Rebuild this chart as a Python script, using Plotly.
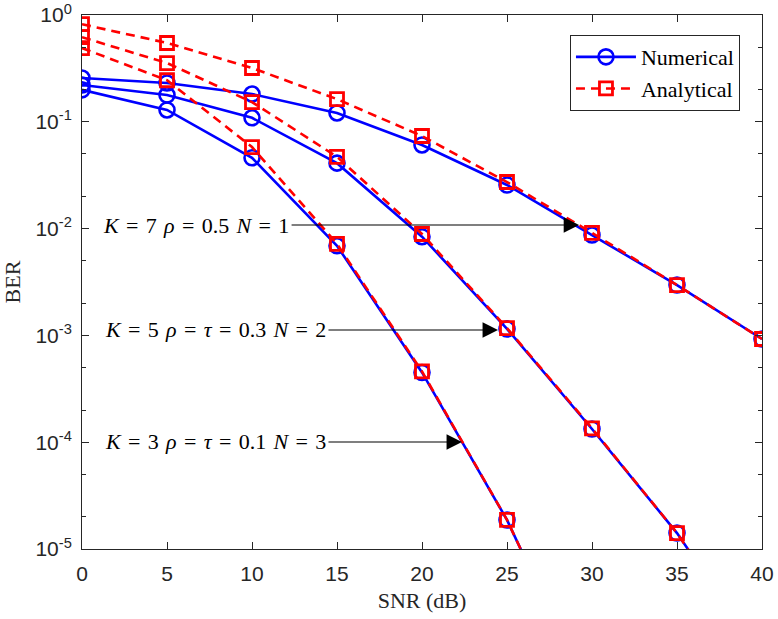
import plotly.graph_objects as go
import math

snr = [0, 5, 10, 15, 20, 25, 30, 35, 40]

# Numerical (simulation) BER
num_k7_n1 = [0.257, 0.231, 0.182, 0.121, 0.0607, 0.0256, 0.0087, 0.00296, 0.000925]
num_k5_n2 = [0.221, 0.178, 0.109, 0.041, 0.0084, 0.00115, 0.000133, 0.0000141, 0.00000095]
num_k3_n3 = [0.199, 0.129, 0.046, 0.0069, 0.00045, 0.0000187, 0.00000038]

# Analytical BER
ana_k7_n1 = [0.82, 0.547, 0.319, 0.163, 0.0736, 0.0273, 0.0091, 0.00296, 0.000925]
ana_k5_n2 = [0.62, 0.355, 0.153, 0.047, 0.0089, 0.00117, 0.000135, 0.0000141, 0.00000095]
ana_k3_n3 = [0.49, 0.245, 0.058, 0.0072, 0.00046, 0.0000187, 0.00000038]

ytick_vals = [1e-5, 1e-4, 1e-3, 1e-2, 1e-1, 1]
ytick_text = ["10<sup>-5</sup>", "10<sup>-4</sup>", "10<sup>-3</sup>",
              "10<sup>-2</sup>", "10<sup>-1</sup>", "10<sup>0</sup>"]
xtick_vals = [0, 5, 10, 15, 20, 25, 30, 35, 40]

S = "\u2004"
labels = [f"<i>K</i>{S}={S}7{S}<i>ρ</i>{S}={S}0.5{S}<i>N</i>{S}={S}1",
          f"<i>K</i>{S}={S}5{S}<i>ρ</i>{S}={S}<i>τ</i>{S}={S}0.3{S}<i>N</i>{S}={S}2",
          f"<i>K</i>{S}={S}3{S}<i>ρ</i>{S}={S}<i>τ</i>{S}={S}0.1{S}<i>N</i>{S}={S}3"]
# arrow tail x, tip x, BER level
arrow_tail = [12.24, 14.41, 14.41]
arrow_tip = [29.24, 24.47, 22.35]
arrow_ber = [0.0108, 0.001125, 0.0001005]

BLUE = "rgb(0,0,255)"
RED = "rgb(255,0,0)"
SERIF = "Liberation Serif"
SANS = "Liberation Sans"
AX = "#262626"

fig = go.Figure()

nums = [num_k7_n1, num_k5_n2, num_k3_n3]
anas = [ana_k7_n1, ana_k5_n2, ana_k3_n3]

for i, y in enumerate(nums):
    fig.add_trace(go.Scatter(
        x=snr[:len(y)], y=y, mode="lines+markers", name="Numerical",
        showlegend=(i == 0), legendgroup="num",
        line=dict(color=BLUE, width=2.6),
        marker=dict(symbol="circle-open", size=15, color=BLUE, line=dict(width=2.6)),
        cliponaxis=True))
for i, y in enumerate(anas):
    fig.add_trace(go.Scatter(
        x=snr[:len(y)], y=y, mode="lines+markers", name="Analytical",
        showlegend=(i == 0), legendgroup="ana",
        line=dict(color=RED, width=2.6, dash="9px,6px"),
        marker=dict(symbol="square-open", size=13, color=RED, line=dict(width=2.8)),
        cliponaxis=True))

for lab, xt, xp, yb in zip(labels, arrow_tail, arrow_tip, arrow_ber):
    ly = math.log10(yb)
    fig.add_annotation(x=xp, y=ly, ax=xt, ay=ly, xref="x", yref="y",
                       axref="x", ayref="y", text="", showarrow=True,
                       arrowhead=2, arrowsize=2.8, arrowwidth=1.1,
                       arrowcolor="black", standoff=0)
    fig.add_annotation(x=xt, y=ly, xref="x", yref="y", text=lab,
                       showarrow=False, xanchor="right", yanchor="middle",
                       xshift=1,
                       font=dict(family=SERIF, size=22, color="black"))

axis_common = dict(showline=True, linecolor=AX, linewidth=1, mirror="allticks",
                   ticks="inside", tickcolor=AX, ticklen=7, showgrid=False,
                   zeroline=False, automargin=False,
                   tickfont=dict(family=SANS, size=21, color=AX))

fig.update_xaxes(range=[0, 40], tickvals=xtick_vals, **axis_common,
                 ticklabelstandoff=6,
                 title=dict(text="SNR (dB)", font=dict(family=SERIF, size=22, color=AX),
                            standoff=8))
fig.update_yaxes(type="log", range=[-5, 0], tickvals=ytick_vals, ticktext=ytick_text,
                 **axis_common, ticklabelstandoff=5,
                 minor=dict(ticks="inside", ticklen=4, tickcolor=AX, showgrid=False),
                 title=dict(text="BER", font=dict(family=SERIF, size=22, color=AX),
                            standoff=10))

fig.update_layout(
    width=778, height=619,
    margin=dict(l=82, r=16, t=15, b=70, autoexpand=False),
    plot_bgcolor="white", paper_bgcolor="white",
    legend=dict(x=0.9676, y=0.9625, xanchor="right", yanchor="top",
                bgcolor="white", bordercolor=AX, borderwidth=1,
                font=dict(family=SERIF, size=22, color="black"),
                itemwidth=60, tracegroupgap=0),
)

fig.write_html("out.html")
